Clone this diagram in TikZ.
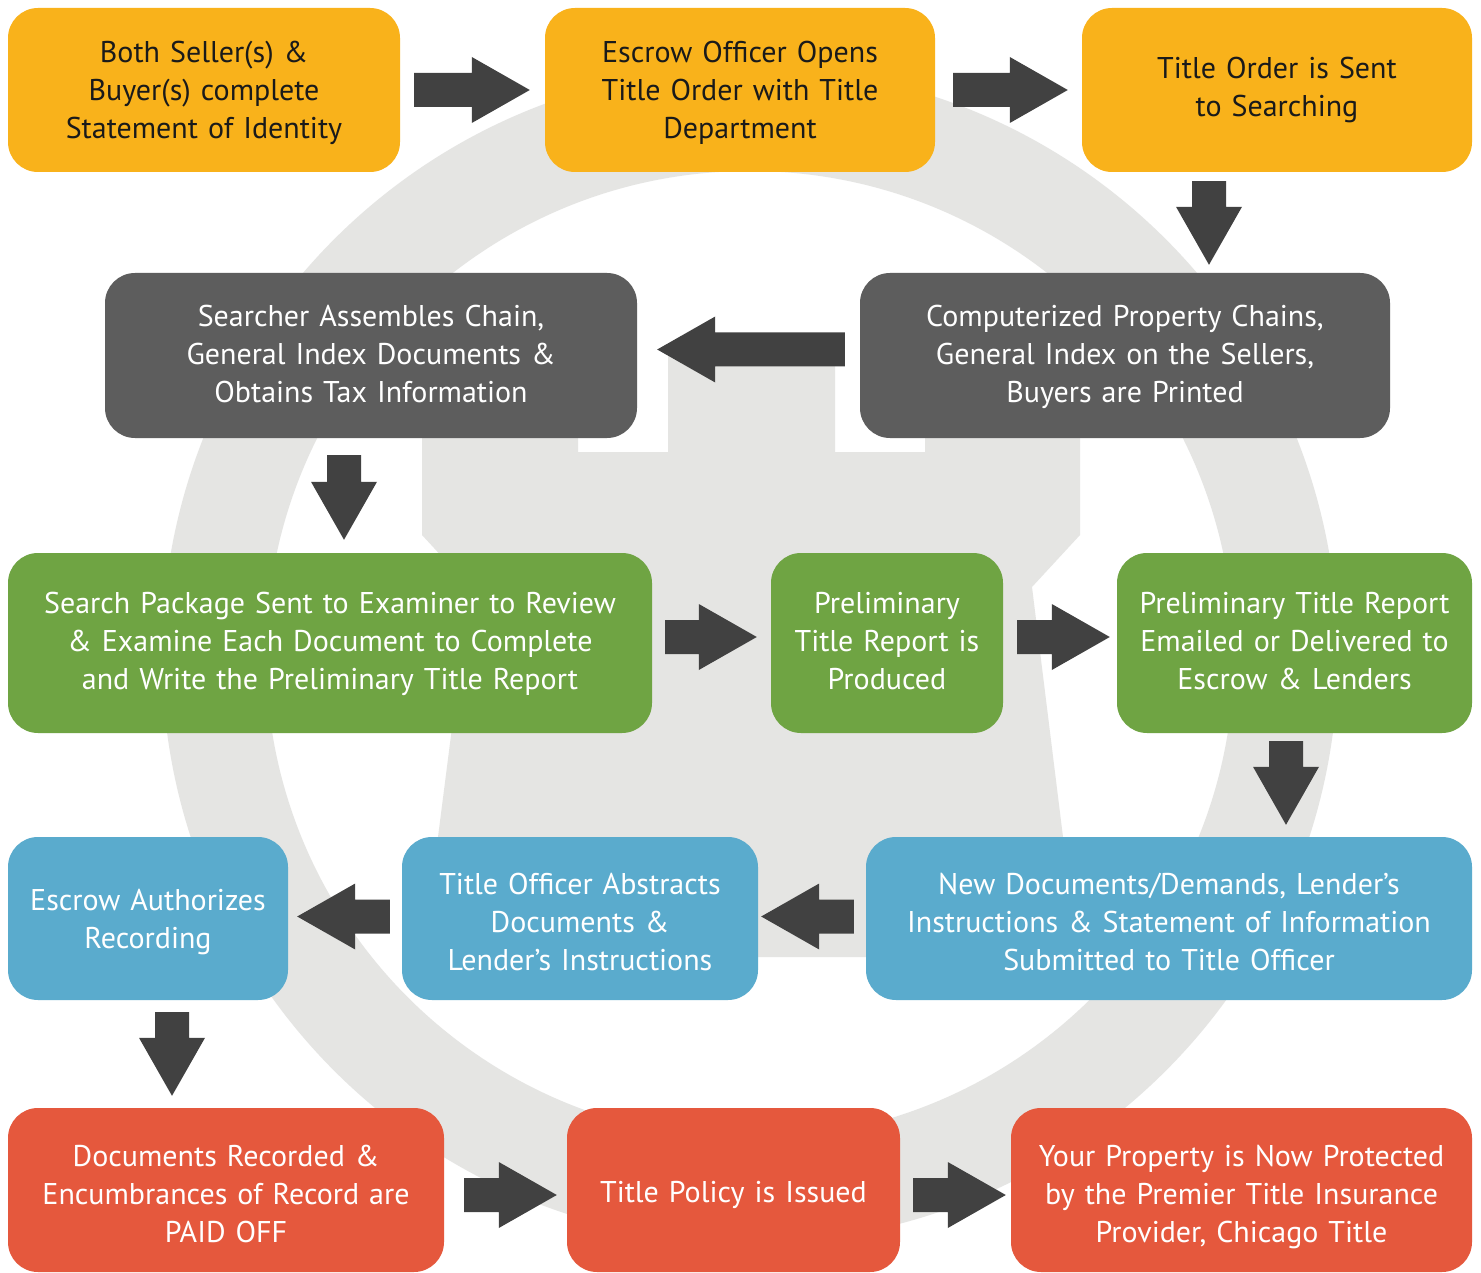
\documentclass[tikz,border=0pt]{standalone}
\usepackage{fontspec}
\setmainfont{PT Sans}
\usetikzlibrary{calc}
\definecolor{cyel}{HTML}{F9B21B}
\definecolor{cdark}{HTML}{5D5D5D}
\definecolor{cgreen}{HTML}{6FA443}
\definecolor{cblue}{HTML}{5AABCD}
\definecolor{cred}{HTML}{E5583D}
\definecolor{carrow}{HTML}{414141}
\definecolor{cbg}{HTML}{E5E5E3}
\definecolor{ctext}{HTML}{1A1A1A}
\newcommand\bigarr[2]{%
  \fill[carrow] let \p1=#1, \p2=#2, \p3=($(\p2)!58pt!(\p1)$) in
    ($(\p1)!17pt!90:(\p2)$) -- ($(\p3)!17pt!90:(\p2)$) -- ($(\p3)!33pt!90:(\p2)$) --
    (\p2) -- ($(\p3)!33pt!-90:(\p2)$) -- ($(\p3)!17pt!-90:(\p2)$) --
    ($(\p1)!17pt!-90:(\p2)$) -- cycle;}
\begin{document}
\begin{tikzpicture}[x=1pt,y=-1pt,
  box/.style={rounded corners=30pt, inner sep=0pt, align=center, draw=none,
    font=\fontsize{30}{38}\selectfont, text=white},
  tdp/.style={text height=0pt, text depth=#1},
  ybox/.style={box, fill=cyel, text=ctext},
  dbox/.style={box, fill=cdark},
  gbox/.style={box, fill=cgreen},
  bbox/.style={box, fill=cblue},
  rbox/.style={box, fill=cred}]
\useasboundingbox (0,0) rectangle (1481,1273);
\fill[white] (0,0) rectangle (1481,1273);
% background ring and house
\fill[cbg, even odd rule] (750,655) circle[radius=588pt] (750,655) circle[radius=484pt];
\fill[cbg] (422,300) -- (578,300) -- (578,452) -- (668,452) -- (668,345) -- (835,345)
  -- (835,452) -- (925,452) -- (925,300) -- (1080,300) -- (1080,535) -- (1032,587)
  -- (1063,837) -- (1070,957) -- (430,957) -- (438,837) -- (470,587) -- (422,535) -- cycle;
% row 1
\node[ybox, tdp=55pt, minimum width=392pt, minimum height=164pt, text width=382pt] (A) at (204,90)
  {Both Seller(s) \&\\Buyer(s) complete\\Statement of Identity};
\node[ybox, tdp=55pt, minimum width=390pt, minimum height=164pt, text width=380pt] (B) at (740,90)
  {Escrow Officer Opens\\Title Order with Title\\Department};
\node[ybox, tdp=23pt, minimum width=390pt, minimum height=164pt, text width=380pt] (C) at (1277,90)
  {Title Order is Sent\\to Searching};
% row 2
\node[dbox, tdp=58pt, minimum width=532pt, minimum height=165pt, text width=522pt] (E) at (371,355.5)
  {Searcher Assembles Chain,\\General Index Documents \&\\Obtains Tax Information};
\node[dbox, tdp=58pt, minimum width=530pt, minimum height=165pt, text width=520pt] (D) at (1125,355.5)
  {Computerized Property Chains,\\General Index on the Sellers,\\Buyers are Printed};
% row 3
\node[gbox, tdp=59pt, minimum width=644pt, minimum height=180pt, text width=634pt] (F) at (330,643)
  {Search Package Sent to Examiner to Review\\\& Examine Each Document to Complete\\and Write the Preliminary Title Report};
\node[gbox, tdp=59pt, minimum width=232pt, minimum height=180pt, text width=226pt] (G) at (887,643)
  {Preliminary\\Title Report is\\Produced};
\node[gbox, tdp=59pt, minimum width=355pt, minimum height=180pt, text width=349pt] (H) at (1294.5,643)
  {Preliminary Title Report\\Emailed or Delivered to\\Escrow \& Lenders};
% row 4
\node[bbox, tdp=48pt, minimum width=606pt, minimum height=163pt, text width=600pt] (I) at (1169,918.5)
  {New Documents/Demands, Lender’s\\Instructions \& Statement of Information\\Submitted to Title Officer};
\node[bbox, tdp=48pt, minimum width=356pt, minimum height=163pt, text width=350pt] (J) at (580,918.5)
  {Title Officer Abstracts\\Documents \&\\Lender’s Instructions};
\node[bbox, tdp=16pt, minimum width=280pt, minimum height=163pt, text width=274pt] (K) at (148,918.5)
  {Escrow Authorizes\\Recording};
% row 5
\node[rbox, tdp=47pt, minimum width=436pt, minimum height=164pt, text width=430pt] (L) at (226,1190)
  {Documents Recorded \&\\Encumbrances of Record are\\PAID OFF};
\node[rbox, text height=25pt, text depth=0pt, minimum width=333pt, minimum height=164pt, text width=327pt] (M) at (733.5,1190)
  {Title Policy is Issued};
\node[rbox, tdp=47pt, minimum width=461pt, minimum height=164pt, text width=455pt] (N) at (1241.5,1190)
  {Your Property is Now Protected\\by the Premier Title Insurance\\Provider, Chicago Title};
% arrows
\bigarr{([shift={(14,0)}]A.east)}{([shift={(-15,0)}]B.west)}
\bigarr{([shift={(18,0)}]B.east)}{([shift={(-14,0)}]C.west)}
\bigarr{([shift={(-68,9)}]C.south)}{([shift={(84,-8)}]D.north)}
\bigarr{([shift={(-15,-6)}]D.west)}{([shift={(20,-6)}]E.east)}
\bigarr{([shift={(-27,17)}]E.south)}{([shift={(14,-13)}]F.north)}
\bigarr{([shift={(13,-6)}]F.east)}{([shift={(-14,-6)}]G.west)}
\bigarr{([shift={(14,-6)}]G.east)}{([shift={(-7,-6)}]H.west)}
\bigarr{([shift={(-8.5,8)}]H.south)}{([shift={(117,-12)}]I.north)}
\bigarr{([shift={(-12,-2)}]I.west)}{([shift={(3,-2)}]J.east)}
\bigarr{([shift={(-12,-2)}]J.west)}{([shift={(9,-2)}]K.east)}
\bigarr{([shift={(24,12)}]K.south)}{([shift={(-54,-12)}]L.north)}
\bigarr{([shift={(20,5)}]L.east)}{([shift={(-10,5)}]M.west)}
\bigarr{([shift={(13,5)}]M.east)}{([shift={(-5,5)}]N.west)}
\end{tikzpicture}
\end{document}
